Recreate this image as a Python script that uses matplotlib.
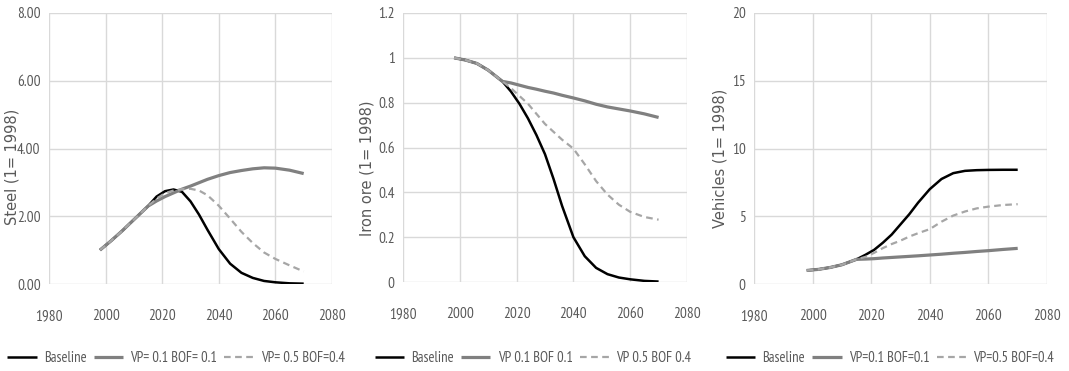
import matplotlib
matplotlib.use("Agg")
import matplotlib.pyplot as plt
from matplotlib import font_manager
from matplotlib.transforms import Bbox

# ---------------- data ----------------
years = [1998, 2002, 2006, 2010, 2015, 2018, 2021, 2024, 2027, 2030, 2033,
         2036, 2040, 2044, 2048, 2052, 2056, 2060, 2065, 2070]

steel_base = [1.00, 1.28, 1.58, 1.90, 2.30, 2.58, 2.74, 2.79, 2.72, 2.44, 2.05,
              1.60, 1.03, 0.60, 0.33, 0.18, 0.09, 0.05, 0.02, 0.01]
steel_vp01 = [1.00, 1.28, 1.58, 1.90, 2.30, 2.45, 2.58, 2.69, 2.80, 2.89, 2.99,
              3.09, 3.20, 3.29, 3.35, 3.40, 3.43, 3.42, 3.36, 3.26]
steel_vp05 = [1.00, 1.28, 1.58, 1.90, 2.30, 2.52, 2.68, 2.76, 2.80, 2.81, 2.76,
              2.62, 2.31, 1.93, 1.54, 1.21, 0.93, 0.74, 0.55, 0.37]

iron_base = [1.000, 0.990, 0.975, 0.945, 0.895, 0.850, 0.795, 0.730, 0.655, 0.570, 0.460,
             0.340, 0.200, 0.115, 0.063, 0.035, 0.020, 0.012, 0.005, 0.002]
iron_vp01 = [1.000, 0.990, 0.975, 0.945, 0.895, 0.888, 0.878, 0.868, 0.860, 0.851, 0.843,
             0.833, 0.821, 0.808, 0.793, 0.781, 0.772, 0.763, 0.750, 0.734]
iron_vp05 = [1.000, 0.990, 0.975, 0.945, 0.895, 0.865, 0.830, 0.795, 0.750, 0.705, 0.670,
             0.635, 0.595, 0.525, 0.450, 0.390, 0.345, 0.313, 0.290, 0.278]

veh_base = [1.00, 1.08, 1.22, 1.42, 1.82, 2.15, 2.52, 3.05, 3.65, 4.40, 5.15,
            6.00, 7.00, 7.75, 8.18, 8.35, 8.40, 8.42, 8.43, 8.43]
veh_vp01 = [1.00, 1.08, 1.22, 1.42, 1.82, 1.84, 1.87, 1.92, 1.96, 2.00, 2.04,
            2.08, 2.14, 2.20, 2.27, 2.33, 2.40, 2.46, 2.55, 2.63]
veh_vp05 = [1.00, 1.08, 1.22, 1.42, 1.82, 2.00, 2.30, 2.65, 2.95, 3.20, 3.50,
            3.75, 4.05, 4.60, 5.05, 5.35, 5.58, 5.71, 5.83, 5.89]

xticks = [1980, 2000, 2020, 2040, 2060, 2080]
steel_yticks = [0, 2, 4, 6, 8]
steel_ylabels = ["0.00", "2.00", "4.00", "6.00", "8.00"]
iron_yticks = [0, 0.2, 0.4, 0.6, 0.8, 1.0, 1.2]
iron_ylabels = ["0", "0.2", "0.4", "0.6", "0.8", "1", "1.2"]
veh_yticks = [0, 5, 10, 15, 20]
veh_ylabels = ["0", "5", "10", "15", "20"]

legend_labels = [
    ["Baseline", "VP= 0.1 BOF= 0.1", "VP= 0.5 BOF=0.4"],
    ["Baseline", "VP 0.1 BOF 0.1", "VP 0.5 BOF 0.4"],
    ["Baseline", "VP=0.1 BOF=0.1", "VP=0.5 BOF=0.4"],
]
ylabels = ["Steel (1= 1998)", "Iron ore (1= 1998)", "Vehicles (1= 1998)"]

# ---------------- fonts ----------------
avail = {f.name for f in font_manager.fontManager.ttflist}
narrow = "Liberation Sans"
for cand in ["Liberation Sans Narrow", "Arial Narrow", "PT Sans Narrow",
             "Archivo Narrow", "Roboto Condensed", "Open Sans Condensed",
             "Encode Sans Condensed", "Carlito"]:
    if cand in avail:
        narrow = cand
        break

W, H = 1069, 371
fig = plt.figure(figsize=(W / 100, H / 100), dpi=100)

TXT = "#595959"
GRID = "#d9d9d9"

panels = [
    dict(rect=(49, 13, 332, 284), base=steel_base, v1=steel_vp01, v5=steel_vp05,
         yt=steel_yticks, yl=steel_ylabels, ylim=(0, 8),
         lab_xy=(-0.106, 0.432), leg_x=176),
    dict(rect=(403, 13, 687, 282), base=iron_base, v1=iron_vp01, v5=iron_vp05,
         yt=iron_yticks, yl=iron_ylabels, ylim=(0, 1.2),
         lab_xy=(-0.102, 0.424), leg_x=533),
    dict(rect=(754, 13, 1047, 284), base=veh_base, v1=veh_vp01, v5=veh_vp05,
         yt=veh_yticks, yl=veh_ylabels, ylim=(0, 20),
         lab_xy=(-0.089, 0.465), leg_x=890),
]

for i, p in enumerate(panels):
    x0, y0, x1, y1 = p["rect"]
    ax = fig.add_axes([x0 / W, 1 - y1 / H, (x1 - x0) / W, (y1 - y0) / H])
    l1, = ax.plot(years, p["base"], color="black", lw=1.8, solid_capstyle="butt")
    l2, = ax.plot(years, p["v1"], color="#808080", lw=2.3, solid_capstyle="butt")
    l3, = ax.plot(years, p["v5"], color="#a6a6a6", lw=1.6, dashes=(3, 2))
    ax.set_xlim(1980, 2080)
    ax.set_ylim(*p["ylim"])
    ax.set_xticks(xticks)
    ax.set_yticks(p["yt"])
    ax.set_yticklabels(p["yl"])
    ax.grid(True, color=GRID, lw=1.0)
    ax.set_axisbelow(True)
    for s in ax.spines.values():
        s.set_visible(False)
    ax.tick_params(length=0, colors=TXT, labelsize=11)
    ax.tick_params(axis="x", pad=18)
    ax.tick_params(axis="y", pad=6)
    for t in ax.get_xticklabels() + ax.get_yticklabels():
        t.set_fontfamily(narrow)
        t.set_color(TXT)
    ax.set_ylabel(ylabels[i], fontsize=10.5, color=TXT, family="DejaVu Sans")
    ax.yaxis.set_label_coords(*p["lab_xy"])
    leg = fig.legend([l1, l2, l3], legend_labels[i], loc="center",
                     bbox_to_anchor=(p["leg_x"] / W, (H - 358) / H),
                     ncol=3, frameon=False, handlelength=2.0, handletextpad=0.5,
                     columnspacing=0.5, prop={"family": narrow, "size": 10.5})
    for t in leg.get_texts():
        t.set_color(TXT)
    if i == 1:
        clip = Bbox.from_extents(0, 0, 705, H)
        for t in ax.get_xticklabels():
            t.set_clip_box(clip)
            t.set_clip_on(True)

fig.savefig("out.png", dpi=100)
